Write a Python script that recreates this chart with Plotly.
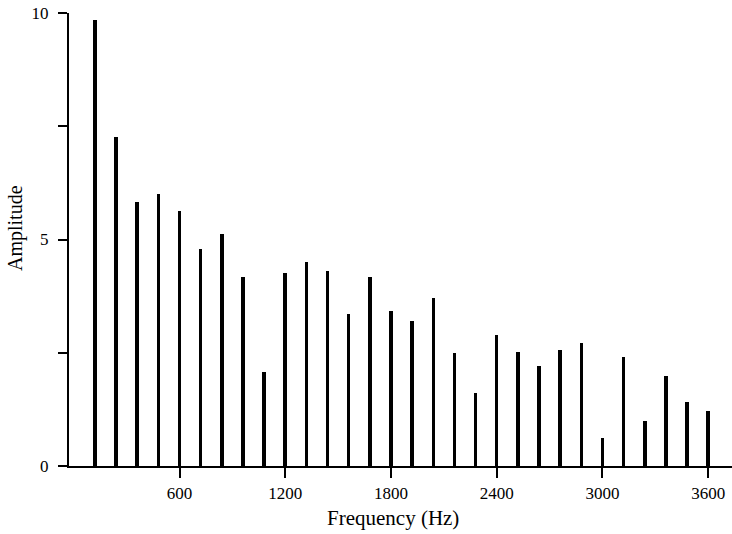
import plotly.graph_objects as go

frequencies = [120 * k for k in range(1, 31)]
amplitudes = [9.85, 7.27, 5.83, 6.0, 5.63, 4.79, 5.12, 4.17, 2.08, 4.25,
              4.51, 4.31, 3.36, 4.18, 3.42, 3.19, 3.70, 2.49, 1.62, 2.89,
              2.52, 2.21, 2.55, 2.71, 0.61, 2.40, 0.99, 1.99, 1.41, 1.21]
x_tick_vals = [600, 1200, 1800, 2400, 3000, 3600]
x_tick_text = ["600", "1200", "1800", "2400", "3000", "3600"]
y_tick_vals = [0, 2.5, 5, 7.5, 10]
y_tick_text = ["0", "", "5", "", "10"]

font_family = "Liberation Serif, DejaVu Serif, serif"

fig = go.Figure()
fig.add_trace(go.Bar(x=frequencies, y=amplitudes, width=20,
                     marker=dict(color="black", line=dict(width=0))))

fig.update_layout(
    width=732, height=534,
    margin=dict(l=69, r=0, t=13, b=68),
    plot_bgcolor="white", paper_bgcolor="white",
    showlegend=False,
    font=dict(family=font_family, color="black", size=17),
    bargap=0,
)
fig.update_xaxes(
    range=[-27, 3735], showgrid=False, zeroline=False,
    showline=True, linecolor="black", linewidth=2,
    ticks="outside", ticklen=10, tickwidth=2, tickcolor="black",
    tickvals=x_tick_vals, ticktext=x_tick_text,
    tickfont=dict(family=font_family, size=17),
    ticklabelstandoff=1,
)
fig.update_yaxes(
    range=[0, 10], showgrid=False, zeroline=False,
    showline=True, linecolor="black", linewidth=2,
    ticks="outside", ticklen=9, tickwidth=2, tickcolor="black",
    tickvals=y_tick_vals, ticktext=y_tick_text,
    tickfont=dict(family=font_family, size=17),
    ticklabelstandoff=6,
)
fig.add_annotation(text="Frequency (Hz)", xref="paper", yref="paper",
                   x=(393 - 69) / 663, y=-(518 - 466) / 453, xanchor="center",
                   yanchor="middle", showarrow=False,
                   font=dict(family=font_family, size=21, color="black"))
fig.add_annotation(text="Amplitude", xref="paper", yref="paper",
                   x=-(69 - 15) / 663, y=(466 - 228) / 453, xanchor="center",
                   yanchor="middle", showarrow=False, textangle=-90,
                   font=dict(family=font_family, size=20, color="black"))

fig.write_html("out.html")
